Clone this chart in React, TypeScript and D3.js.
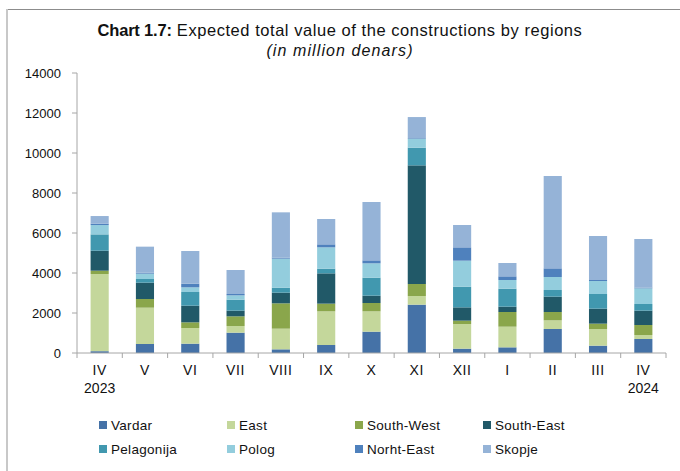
import React from "react";
import * as d3 from "d3";

const categories = ["IV", "V", "VI", "VII", "VIII", "IX", "X", "XI", "XII", "I", "II", "III", "IV"];
const yearLabels = ["2023", "", "", "", "", "", "", "", "", "", "", "", "2024"];
const seriesNames = ["Vardar", "East", "South-West", "South-East", "Pelagonija", "Polog", "Norht-East", "Skopje"];
const seriesColors = ["#4572a7", "#c4d79b", "#8aa64b", "#215968", "#4198af", "#93cddd", "#4f81bd", "#95b3d7"];

const vardar = [90, 450, 467, 1017, 183, 400, 1067, 2417, 217, 283, 1200, 367, 700];
const east = [3860, 1817, 783, 333, 1034, 1683, 1016, 433, 1233, 1034, 433, 833, 200];
const southWest = [165, 433, 283, 483, 1266, 384, 417, 600, 167, 733, 417, 267, 500];
const southEast = [1000, 817, 834, 284, 534, 1516, 367, 5933, 666, 267, 767, 750, 717];
const pelagonija = [816, 183, 683, 550, 250, 234, 900, 884, 1034, 900, 333, 733, 333];
const polog = [467, 267, 233, 216, 1450, 1066, 716, 450, 1300, 433, 650, 650, 783];
const northEast = [67, 50, 184, 67, 50, 150, 150, 30, 666, 183, 433, 50, 34];
const skopje = [383, 1300, 1633, 1200, 2266, 1267, 2917, 1050, 1117, 667, 4617, 2200, 2433];

const yTicks = [0, 2000, 4000, 6000, 8000, 10000, 12000, 14000];

export default function App() {
  const W = 680, H = 471;
  const x0 = 77, x1 = 666, yTop = 73, yBot = 353;
  const seriesData = [vardar, east, southWest, southEast, pelagonija, polog, northEast, skopje];
  const rows = categories.map((c, i) => {
    const r: any = { idx: i };
    seriesNames.forEach((s, j) => (r[s] = seriesData[j][i]));
    return r;
  });
  const stack = d3.stack<any>().keys(seriesNames);
  const layers = stack(rows);
  const x = d3.scaleBand<number>().domain(categories.map((_, i) => i)).range([x0, x1]).paddingInner(0.6).paddingOuter(0.3);
  const xb = d3.scaleBand<number>().domain(categories.map((_, i) => i)).range([x0, x1]);
  const y = d3.scaleLinear().domain([0, 14000]).range([yBot, yTop]);
  const font = "Liberation Sans, Arial, sans-serif";
  const legendCols = [99, 227, 355, 483];
  const legendRows = [425, 449];

  return (
    <svg width={W} height={H} style={{ position: "absolute", left: 0, top: 0 }} fontFamily={font}>
      <rect x={0} y={0} width={W} height={H} fill="#fff" />
      <line x1={6} y1={9.5} x2={W} y2={9.5} stroke="#8c8c8c" strokeWidth={1.2} />
      <line x1={7} y1={9} x2={7} y2={H} stroke="#c8c8c8" strokeWidth={2} />
      <text x={340} y={36} textAnchor="middle" fontSize={16.5} letterSpacing={0.55} fill="#111">
        <tspan fontWeight="bold" letterSpacing={-0.2}>Chart 1.7:</tspan>
        <tspan> Expected total value of the constructions by regions</tspan>
      </text>
      <text x={340} y={56} textAnchor="middle" fontSize={16} letterSpacing={1.1} fontStyle="italic" fill="#111">
        (in million denars)
      </text>
      {layers.map((layer, li) => (
        <g key={li} fill={seriesColors[li]}>
          {layer.map((d, i) => (
            <rect key={i} x={x(i)} width={x.bandwidth()} y={y(d[1])} height={Math.max(0, y(d[0]) - y(d[1]))} />
          ))}
        </g>
      ))}
      <line x1={x0} y1={yTop} x2={x0} y2={yBot} stroke="#a6a6a6" />
      {yTicks.map((t) => (
        <g key={t}>
          <line x1={x0 - 5} x2={x0} y1={y(t)} y2={y(t)} stroke="#a6a6a6" />
          <text x={61} y={y(t) + 4.5} textAnchor="end" fontSize={13} fill="#111">{t}</text>
        </g>
      ))}
      <line x1={x0} y1={yBot} x2={x1} y2={yBot} stroke="#a6a6a6" />
      {categories.map((c, i) => (
        <g key={i}>
          <line x1={(xb(i) as number) + xb.bandwidth()} x2={(xb(i) as number) + xb.bandwidth()} y1={yBot} y2={yBot + 5} stroke="#a6a6a6" />
          <text x={(xb(i) as number) + xb.bandwidth() / 2} y={375} textAnchor="middle" fontSize={14} letterSpacing={0.6} fill="#111">{c}</text>
          {yearLabels[i] && (
            <text x={(xb(i) as number) + xb.bandwidth() / 2} y={393} textAnchor="middle" fontSize={14} fill="#111">{yearLabels[i]}</text>
          )}
        </g>
      ))}
      <line x1={x0} x2={x0} y1={yBot} y2={yBot + 5} stroke="#a6a6a6" />
      {seriesNames.map((s, i) => {
        const cx = legendCols[i % 4];
        const cy = legendRows[Math.floor(i / 4)];
        return (
          <g key={s}>
            <rect x={cx} y={cy - 4} width={8} height={8} fill={seriesColors[i]} />
            <text x={cx + 12} y={cy + 5} fontSize={13.5} letterSpacing={0.3} fill="#111">{s}</text>
          </g>
        );
      })}
    </svg>
  );
}
